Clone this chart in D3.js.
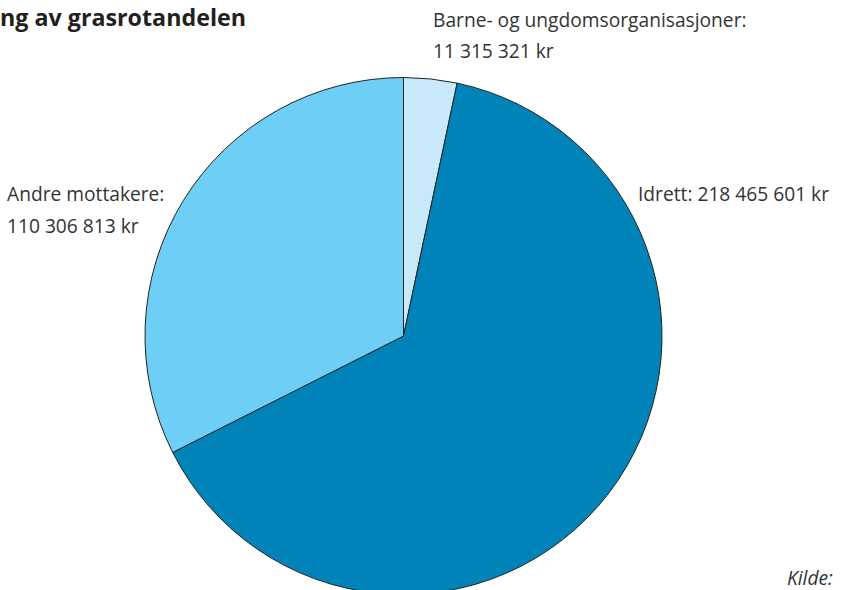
<!DOCTYPE html>
<html><head><meta charset="utf-8">
<script src="https://cdn.jsdelivr.net/npm/d3@7"></script>
<style>body{margin:0;background:#fff}svg{display:block}</style>
</head><body>
<svg id="c" width="844" height="590"></svg>
<script>
const categories = ["Barne- og ungdomsorganisasjoner:", "Idrett:", "Andre mottakere:"];
const values = [11315321, 218465601, 110306813];
const valueLabels = ["11 315 321 kr", "218 465 601 kr", "110 306 813 kr"];
const colors = ["#c7e9f9", "#0083b8", "#6dcff6"];
const title = "Fordeling av grasrotandelen";
const source = "Kilde:";

const svg = d3.select("#c");
const cx = 403.5, cy = 336, r = 258.5;
const font = "'Open Sans', 'Noto Sans', sans-serif";

const pie = d3.pie().sort(null).value(d => d)(values);
const arc = d3.arc().innerRadius(0).outerRadius(r);
const g = svg.append("g").attr("transform", `translate(${cx},${cy})`);
g.selectAll("path").data(pie).join("path")
  .attr("d", arc)
  .attr("fill", (d, i) => colors[i])
  .attr("stroke", "#222")
  .attr("stroke-width", 1);

// Title: the reference shows it cut at the left edge; fit so "ng av grasrotandelen" spans 0..246
const probe = svg.append("text").attr("font-family", font).attr("font-weight", "bold")
  .attr("font-size", 20).text(title.slice(title.indexOf("ng av")));
const pw = probe.node().getComputedTextLength();
probe.remove();
const tSize = 20 * 246 / pw;
svg.append("text").attr("x", 246).attr("y", 26).attr("text-anchor", "end")
  .attr("font-family", font).attr("font-weight", "bold").attr("font-size", tSize)
  .attr("fill", "#231f20").text(title);

const labelStyle = sel => sel.attr("font-family", font).attr("font-size", 19.2).attr("fill", "#333");
// Barne
svg.append("text").attr("x", 433).attr("y", 27).call(labelStyle).text(categories[0]);
svg.append("text").attr("x", 433).attr("y", 58).call(labelStyle).text(valueLabels[0]);
// Idrett
svg.append("text").attr("x", 638).attr("y", 201).call(labelStyle).text(categories[1] + " " + valueLabels[1]);
// Andre
svg.append("text").attr("x", 7).attr("y", 201).call(labelStyle).text(categories[2]);
svg.append("text").attr("x", 7).attr("y", 233).call(labelStyle).text(valueLabels[2]);

svg.append("text").attr("x", 787).attr("y", 585).call(labelStyle)
  .attr("font-style", "italic").text(source);
</script>
</body></html>
